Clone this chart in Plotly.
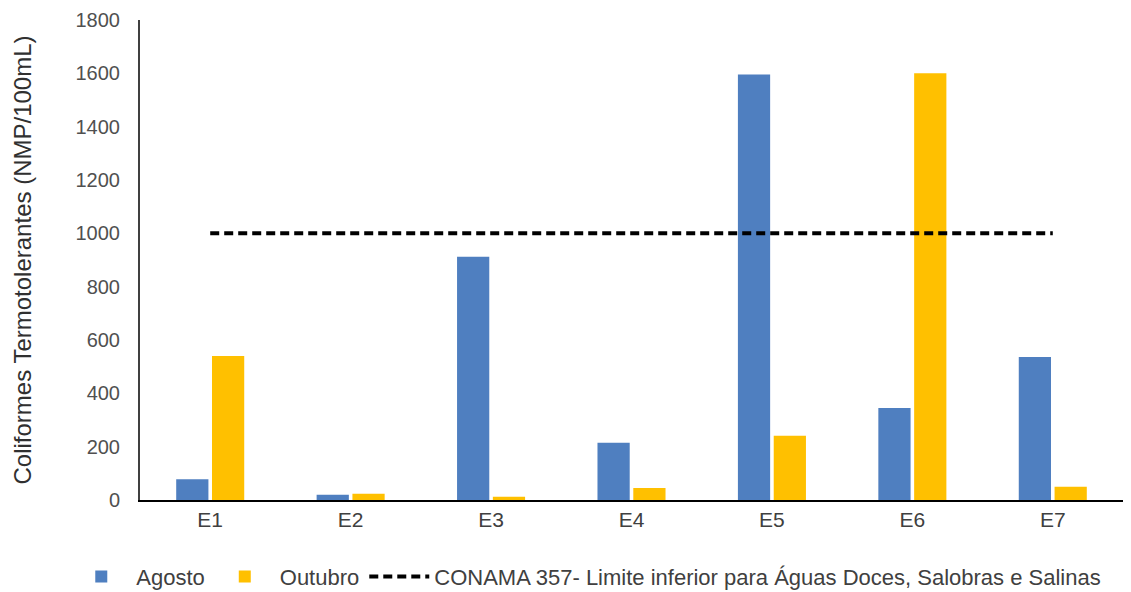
import plotly.graph_objects as go

categories = ["E1", "E2", "E3", "E4", "E5", "E6", "E7"]
agosto = [78, 20, 912, 215, 1596, 345, 536]
outubro = [540, 23, 12, 45, 241, 1600, 50]
limite = [1000, 1000, 1000, 1000, 1000, 1000, 1000]
yticks = [0, 200, 400, 600, 800, 1000, 1200, 1400, 1600, 1800]

font_family = "Liberation Sans, Arial, sans-serif"

fig = go.Figure()
fig.add_trace(go.Bar(x=categories, y=agosto, name="Agosto",
                     marker=dict(color="#4F7FC0", line=dict(width=0))))
fig.add_trace(go.Bar(x=categories, y=outubro, name="Outubro",
                     marker=dict(color="#FFC000", line=dict(width=0))))
fig.add_trace(go.Scatter(x=categories, y=limite, mode="lines",
                         name="CONAMA 357- Limite inferior para Águas Doces, Salobras e Salinas",
                         line=dict(color="black", width=4, dash="9px,5px")))

fig.update_layout(
    width=1123, height=584,
    margin=dict(l=132, r=8, t=12, b=92, autoexpand=False),
    plot_bgcolor="white", paper_bgcolor="white",
    barmode="group", bargap=0.49, bargroupgap=0.1,
    font=dict(family=font_family, size=19, color="#404040"),
    showlegend=True,
    legend=dict(orientation="h", x=-0.075, xanchor="left", y=-0.16, yanchor="middle",
                font=dict(size=22, color="#404040"), traceorder="normal",
                itemwidth=60, tracegroupgap=0),
    xaxis=dict(showline=True, linecolor="black", linewidth=2, ticks="",
               tickfont=dict(size=21, color="#404040"), showgrid=False),
    yaxis=dict(range=[0, 1800], tickvals=yticks, showline=True, linecolor="#404040",
               linewidth=2, showgrid=False, zeroline=False, ticks="",
               ticklabelstandoff=14, tickfont=dict(size=20, color="#505050"),
               title=dict(text="Coliformes Termotolerantes (NMP/100mL)",
                          font=dict(size=24, color="#303030"), standoff=37)),
)

fig.write_html("out.html")
